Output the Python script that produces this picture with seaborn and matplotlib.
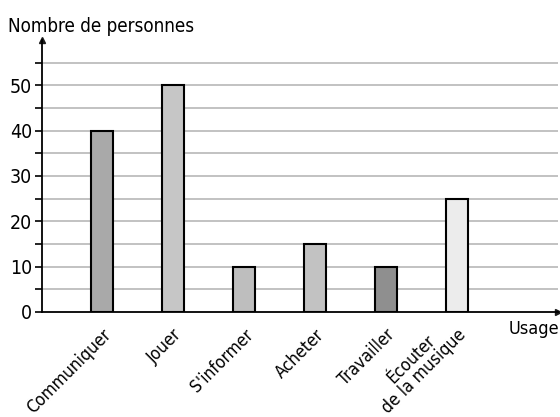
import matplotlib
matplotlib.use("Agg")
import matplotlib.pyplot as plt
import seaborn as sns
import pandas as pd
import numpy as np

categories = ["Communiquer", "Jouer", "S'informer", "Acheter", "Travailler", "Écouter\nde la musique"]
values = [40, 50, 10, 15, 10, 25]
colors = ["#a9a9a9", "#c6c6c6", "#bebebe", "#c2c2c2", "#8f8f8f", "#ececec"]
major_ticks = [0, 10, 20, 30, 40, 50]
minor_ticks = [5, 15, 25, 35, 45, 55]

sns.set_theme(style="white")
plt.rcParams['font.family'] = ['DejaVu Sans']
plt.rcParams['font.stretch'] = 'condensed'
plt.rcParams['text.color'] = 'black'
plt.rcParams['xtick.color'] = 'black'
plt.rcParams['ytick.color'] = 'black'

df = pd.DataFrame({"usage": categories, "n": values})

fig = plt.figure(figsize=(5.6, 4.17), dpi=100)
ax = fig.add_axes([0.075, 0.252, 0.921, 0.652])

sns.barplot(data=df, x="usage", y="n", hue="usage", palette=colors, legend=False,
            width=0.31, edgecolor="black", linewidth=1.5, ax=ax, zorder=3)

ax.set_xlim(-0.845, 6.42)
ax.set_ylim(0, 60)

ax.set_yticks(major_ticks)
ax.set_yticks(minor_ticks, minor=True)
ax.set_yticklabels([str(t) for t in major_ticks], fontsize=14)
ax.tick_params(axis="y", which="both", direction="out", length=5, width=1.2,
               color="black", left=True, pad=2)
for t in major_ticks[1:] + minor_ticks:
    ax.axhline(t, color="#b8b8b8", lw=1.2, zorder=1)

ax.set_xticks(range(len(categories)))
labels = ax.set_xticklabels(categories, rotation=45, ha="right", rotation_mode="anchor",
                            fontsize=12.5, multialignment="center", linespacing=1.0)
ax.tick_params(axis="x", length=0, pad=10)
labels[-1].set_verticalalignment("center")

ax.set_xlabel("")
ax.set_ylabel("")
for s in ["top", "right"]:
    ax.spines[s].set_visible(False)
for s in ["left", "bottom"]:
    ax.spines[s].set_color("black")
    ax.spines[s].set_linewidth(1.3)

ax.plot(1, 0, ">k", markersize=5, transform=ax.transAxes, clip_on=False)
ax.plot(0, 1, "^k", markersize=5, transform=ax.transAxes, clip_on=False)

fig.text(0.014, 0.937, "Nombre de personnes", fontsize=13.5, ha="left", va="center")
fig.text(0.998, 0.21, "Usage", fontsize=13, ha="right", va="center")

fig.savefig("out.png", dpi=100)
